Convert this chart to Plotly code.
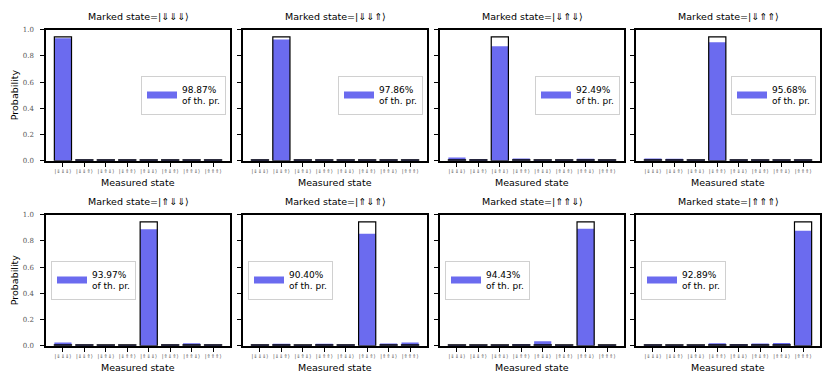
import plotly.graph_objects as go

# page body has an 8px margin, so the figure is drawn 8px in and 8px down
W, H = 822, 381
OFF = 8

states = ['|⇓⇓⇓⟩', '|⇓⇓⇑⟩', '|⇓⇑⇓⟩', '|⇓⇑⇑⟩', '|⇑⇓⇓⟩', '|⇑⇓⇑⟩', '|⇑⇑⇓⟩', '|⇑⇑⇑⟩']

# theoretical Grover probability (3 qubits, 2 iterations)
p_marked = 0.9453
p_other = 0.0078

ratios = ['98.87%', '97.86%', '92.49%', '95.68%', '93.97%', '90.40%', '94.43%', '92.89%']

meas_1 = [0.935, 0.010, 0.007, 0.007, 0.008, 0.007, 0.006, 0.006]
meas_2 = [0.008, 0.925, 0.005, 0.006, 0.005, 0.010, 0.006, 0.005]
meas_3 = [0.025, 0.012, 0.874, 0.018, 0.010, 0.008, 0.015, 0.007]
meas_4 = [0.018, 0.015, 0.006, 0.904, 0.007, 0.006, 0.010, 0.008]
meas_5 = [0.025, 0.010, 0.006, 0.008, 0.888, 0.010, 0.020, 0.010]
meas_6 = [0.010, 0.015, 0.008, 0.015, 0.010, 0.855, 0.018, 0.025]
meas_7 = [0.006, 0.006, 0.007, 0.012, 0.035, 0.006, 0.893, 0.008]
meas_8 = [0.010, 0.006, 0.007, 0.020, 0.012, 0.018, 0.022, 0.878]
measured = [meas_1, meas_2, meas_3, meas_4, meas_5, meas_6, meas_7, meas_8]

blue = '#6b6bef'
sans = 'DejaVu Sans'
serif = 'DejaVu Serif'

# panel pixel boxes (screen pixels)
col_l = [46, 243, 440, 636]
pw = 184
rows = [(26, 160), (215, 349)]


def px(v):
    return (v - OFF) / W


def py(v):
    return 1 - (v - OFF) / H


fig = go.Figure()
layout = dict(width=W, height=H, margin=dict(l=0, r=0, t=0, b=0),
              plot_bgcolor='white', paper_bgcolor='white',
              barmode='overlay', annotations=[])

for i in range(8):
    r, c = divmod(i, 4)
    k = i + 1
    xa = 'x' if k == 1 else 'x%d' % k
    ya = 'y' if k == 1 else 'y%d' % k
    top, bot = rows[r]
    x0, x1 = px(col_l[c]), px(col_l[c] + pw)
    y0, y1 = py(bot), py(top)

    theo = [p_marked if j == i else p_other for j in range(8)]
    lg = 'legend' if k == 1 else 'legend%d' % k

    fig.add_trace(go.Bar(x=states, y=measured[i], width=0.8, marker_color=blue,
                         marker_line_width=0, showlegend=False,
                         xaxis=xa, yaxis=ya))
    fig.add_trace(go.Bar(x=states, y=theo, width=0.8, marker_color='rgba(0,0,0,0)',
                         marker_line=dict(color='black', width=1.2),
                         showlegend=False, xaxis=xa, yaxis=ya))
    # legend entry only (wide patch like matplotlib)
    fig.add_trace(go.Scatter(x=[None], y=[None], mode='lines',
                             line=dict(color=blue, width=7),
                             name=ratios[i] + '<br>of th. pr.',
                             legend=lg, xaxis=xa, yaxis=ya))

    axname = 'xaxis' if k == 1 else 'xaxis%d' % k
    layout[axname] = dict(domain=[x0, x1], anchor=ya, type='category',
                          range=[-0.79, 7.79], showline=True, mirror=True,
                          linecolor='black', linewidth=1.5, ticks='outside',
                          ticklen=4, tickcolor='black', tickangle=0,
                          tickfont=dict(family=sans, size=5.2, color='#555'),
                          showgrid=False, zeroline=False)
    ayname = 'yaxis' if k == 1 else 'yaxis%d' % k
    layout[ayname] = dict(domain=[y0, y1], anchor=xa, range=[0, 1],
                          tickvals=[0, 0.2, 0.4, 0.6, 0.8, 1.0],
                          ticktext=['0.0', '0.2', '0.4', '0.6', '0.8', '1.0'] if c == 0 else [''] * 6,
                          showline=True, mirror=True, linecolor='black', linewidth=1.5,
                          ticks='outside', ticklen=4, tickcolor='black',
                          ticklabelstandoff=5,
                          tickfont=dict(family=serif, size=7, color='#555'),
                          showgrid=False, zeroline=False)

    if r == 0:
        lx, lxa = px(col_l[c] + pw - 4), 'right'
    else:
        lx, lxa = px(col_l[c] + 5), 'left'
    layout[lg] = dict(x=lx, xanchor=lxa, y=(y0 + y1) / 2, yanchor='middle',
                      bgcolor='white', bordercolor='#d0d0d0', borderwidth=1,
                      font=dict(family=sans, size=9, color='black'),
                      itemwidth=30)

    layout['annotations'].append(dict(
        text='Marked state=' + states[i], x=(x0 + x1) / 2, y=py(top - 13),
        xanchor='center', yanchor='middle',
        xref='paper', yref='paper', showarrow=False,
        font=dict(family=sans, size=9.5, color='black')))
    layout['annotations'].append(dict(
        text='Measured state', x=(x0 + x1) / 2, y=py(bot + 22),
        xanchor='center', yanchor='middle',
        xref='paper', yref='paper', showarrow=False,
        font=dict(family=sans, size=9.5, color='black')))
    if c == 0:
        layout['annotations'].append(dict(
            text='Probability', x=px(14), y=(y0 + y1) / 2, textangle=-90,
            xanchor='center', yanchor='middle',
            xref='paper', yref='paper', showarrow=False,
            font=dict(family=sans, size=9.5, color='black')))

fig.update_layout(**layout)
fig.write_html("out.html")
